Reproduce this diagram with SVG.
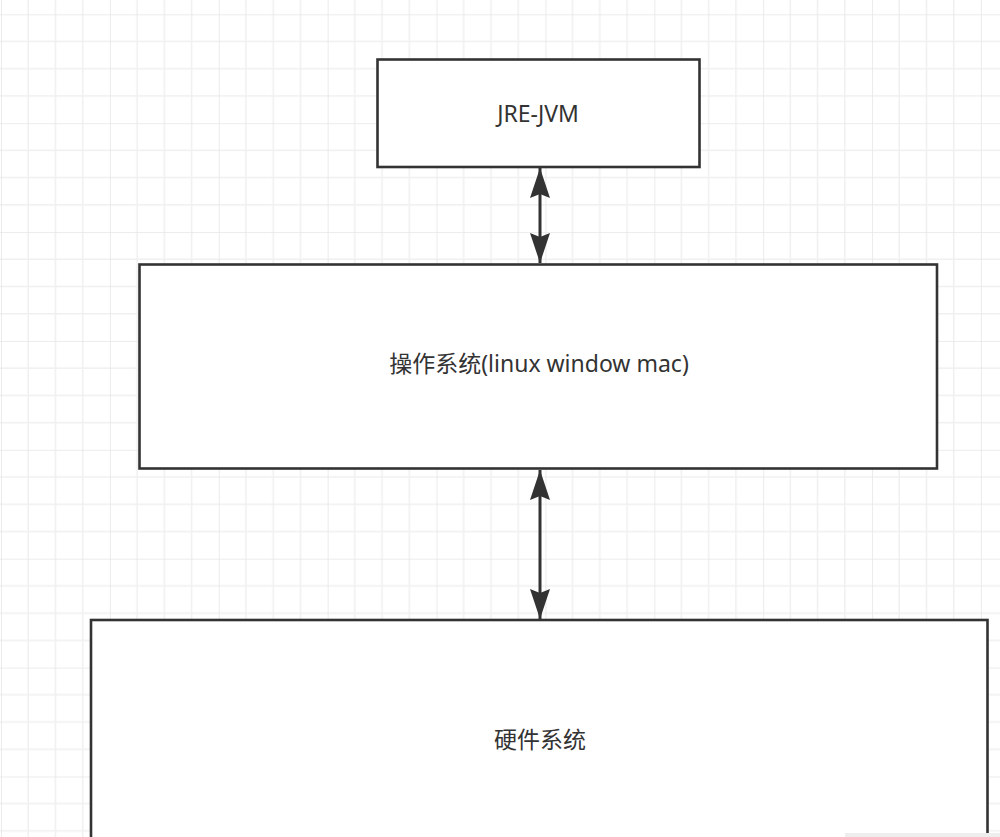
<svg xmlns="http://www.w3.org/2000/svg" width="1000" height="837" viewBox="0 0 1000 837">
  <style>
    .box { fill: #ffffff; stroke: #333333; stroke-width: 2.6; }
    .lbl { font-family: "Noto Sans", "Noto Sans CJK SC", sans-serif; font-size: 23px; fill: #333333; text-anchor: middle; }
    .conn { stroke: #333333; stroke-width: 3; fill: none; }
  </style>
  <defs>
    <pattern id="grid" patternUnits="userSpaceOnUse" x="1" y="14.3" width="108.88" height="108.88">
      <g stroke="#f0f0f0" stroke-width="1.6">
        <line x1="27.22" y1="0" x2="27.22" y2="108.88"/>
        <line x1="54.44" y1="0" x2="54.44" y2="108.88"/>
        <line x1="81.66" y1="0" x2="81.66" y2="108.88"/>
        <line x1="0" y1="27.22" x2="108.88" y2="27.22"/>
        <line x1="0" y1="54.44" x2="108.88" y2="54.44"/>
        <line x1="0" y1="81.66" x2="108.88" y2="81.66"/>
      </g>
      <g stroke="#e6e6e6" stroke-width="1.6">
        <line x1="0" y1="0" x2="0" y2="108.88"/>
        <line x1="0" y1="0" x2="108.88" y2="0"/>
      </g>
    </pattern>
    <marker id="arr" viewBox="0 0 30 20" refX="30" refY="10" markerWidth="30" markerHeight="20" markerUnits="userSpaceOnUse" orient="auto-start-reverse">
      <path d="M0,0 L30,10 L0,20 L4,10 Z" fill="#333333"/>
    </marker>
  </defs>
  <rect x="0" y="0" width="1000" height="837" fill="#ffffff"/>
  <rect x="0" y="0" width="1000" height="837" fill="url(#grid)"/>

  <g id="connectors">
    <line class="conn" x1="540" y1="168" x2="540" y2="263" marker-start="url(#arr)" marker-end="url(#arr)"/>
    <line class="conn" x1="540" y1="470" x2="540" y2="619" marker-start="url(#arr)" marker-end="url(#arr)"/>
  </g>

  <g id="node-jre">
    <rect class="box" x="377.5" y="59.5" width="322" height="107.5"/>
    <text class="lbl" x="538" y="122">JRE-JVM</text>
  </g>
  <g id="node-os">
    <rect class="box" x="139.5" y="264.5" width="797.5" height="204"/>
    <text class="lbl" x="539" y="372">操作系统(linux window mac)</text>
  </g>
  <g id="node-hw">
    <rect class="box" x="91" y="620" width="896.5" height="240"/>
    <text class="lbl" x="540" y="748">硬件系统</text>
  </g>
  <rect x="845" y="833" width="155" height="4" fill="#eeeeee"/>
</svg>
